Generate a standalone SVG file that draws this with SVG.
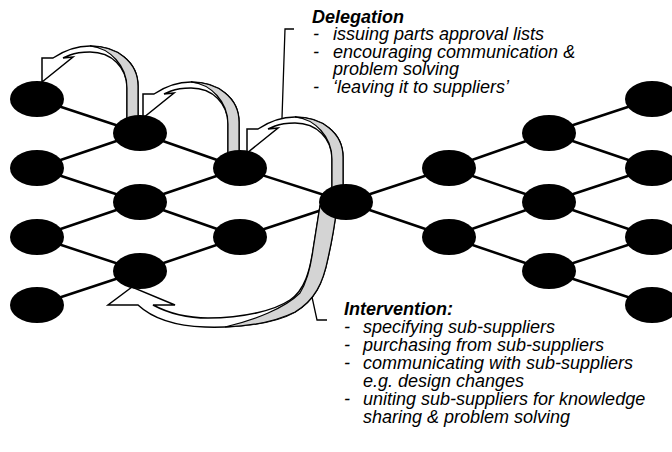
<svg xmlns="http://www.w3.org/2000/svg" width="672" height="452" viewBox="0 0 672 452">
<defs>
<style>
.edge{stroke:#000;stroke-width:2.5;fill:none}
.node{fill:#000}
.rib{fill:#fff;stroke:#000;stroke-width:1.5;stroke-linejoin:miter}
.shade{fill:#d4d4d4;stroke:#000;stroke-width:1.2}
.lead{stroke:#000;stroke-width:1.3;fill:none}
text{font-family:"Liberation Sans",Arial,sans-serif;font-size:18px;font-style:italic;fill:#000}
.hd{font-weight:bold}
</style>
<g id="curvedArrow">
<path class="rib" d="M127,120 L127,88 C127,68 112,52 90,52 C82,52 75,53 70,55 L63,58 L73,57 L42,82 L42,58 L53,58 C62,52 74,46 90,46 C117,46 138,62 138,86 L138,120 Z"/>
<path class="shade" d="M138,120 L138,86 C138,62 117,46 90,46 C110,48 127,66 127,88 L127,120 Z"/>
</g>
</defs>
<g id="connectors">
<line class="edge" x1="37" y1="99" x2="140" y2="133"/>
<line class="edge" x1="37" y1="168" x2="140" y2="133"/>
<line class="edge" x1="37" y1="168" x2="140" y2="202"/>
<line class="edge" x1="37" y1="237" x2="140" y2="202"/>
<line class="edge" x1="37" y1="237" x2="140" y2="271"/>
<line class="edge" x1="37" y1="305" x2="140" y2="271"/>
<line class="edge" x1="140" y1="133" x2="240" y2="168"/>
<line class="edge" x1="140" y1="202" x2="240" y2="168"/>
<line class="edge" x1="140" y1="202" x2="240" y2="237"/>
<line class="edge" x1="140" y1="271" x2="240" y2="237"/>
<line class="edge" x1="240" y1="168" x2="346" y2="202"/>
<line class="edge" x1="240" y1="237" x2="346" y2="202"/>
<line class="edge" x1="346" y1="202" x2="449" y2="168"/>
<line class="edge" x1="346" y1="202" x2="449" y2="237"/>
<line class="edge" x1="449" y1="168" x2="549" y2="133"/>
<line class="edge" x1="449" y1="168" x2="549" y2="202"/>
<line class="edge" x1="449" y1="237" x2="549" y2="202"/>
<line class="edge" x1="449" y1="237" x2="549" y2="271"/>
<line class="edge" x1="549" y1="133" x2="652" y2="99"/>
<line class="edge" x1="549" y1="133" x2="652" y2="168"/>
<line class="edge" x1="549" y1="202" x2="652" y2="168"/>
<line class="edge" x1="549" y1="202" x2="652" y2="237"/>
<line class="edge" x1="549" y1="271" x2="652" y2="237"/>
<line class="edge" x1="549" y1="271" x2="652" y2="305"/>
<use href="#curvedArrow"/>
<use href="#curvedArrow" transform="translate(101,36)"/>
<use href="#curvedArrow" transform="translate(205,71)"/>
<g id="interventionArrow">
<path class="rib" d="M337,206 C334,230 331,245 328,258 C323,283 315,300 295,312 C275,323 240,328 205,327 C175,326 152,318 138,305 L108,305 L132,287 L175,305 L153,305 C168,313 188,318 208,318 C245,318 275,310 290,300 C305,290 310,270 313,250 L320,206 Z"/>
<path class="shade" d="M337,206 C334,230 331,245 328,258 C323,283 315,300 295,312 C275,322 250,326 225,327 C255,320 285,308 300,293 C308,280 311,265 313,250 L320,206 Z"/>
</g>
<polyline class="lead" points="294,29 285,29 282,118"/>
<polyline class="lead" points="312,297 317,320 327,320"/>
</g>
<g id="n1"><ellipse class="node" cx="37" cy="99" rx="27" ry="18"/></g>
<g id="n2"><ellipse class="node" cx="37" cy="168" rx="27" ry="18"/></g>
<g id="n3"><ellipse class="node" cx="37" cy="237" rx="27" ry="18"/></g>
<g id="n4"><ellipse class="node" cx="37" cy="305" rx="27" ry="18"/></g>
<g id="n5"><ellipse class="node" cx="140" cy="133" rx="27" ry="18"/></g>
<g id="n6"><ellipse class="node" cx="140" cy="202" rx="27" ry="18"/></g>
<g id="n7"><ellipse class="node" cx="140" cy="271" rx="27" ry="18"/></g>
<g id="n8"><ellipse class="node" cx="240" cy="168" rx="27" ry="18"/></g>
<g id="n9"><ellipse class="node" cx="240" cy="237" rx="27" ry="18"/></g>
<g id="n10"><ellipse class="node" cx="346" cy="202" rx="27" ry="18"/></g>
<g id="n11"><ellipse class="node" cx="449" cy="168" rx="27" ry="18"/></g>
<g id="n12"><ellipse class="node" cx="449" cy="237" rx="27" ry="18"/></g>
<g id="n13"><ellipse class="node" cx="549" cy="133" rx="27" ry="18"/></g>
<g id="n14"><ellipse class="node" cx="549" cy="202" rx="27" ry="18"/></g>
<g id="n15"><ellipse class="node" cx="549" cy="271" rx="27" ry="18"/></g>
<g id="n16"><ellipse class="node" cx="652" cy="99" rx="27" ry="18"/></g>
<g id="n17"><ellipse class="node" cx="652" cy="168" rx="27" ry="18"/></g>
<g id="n18"><ellipse class="node" cx="652" cy="237" rx="27" ry="18"/></g>
<g id="n19"><ellipse class="node" cx="652" cy="305" rx="27" ry="18"/></g>
<g id="delegation">
<text class="hd" x="312" y="22.5">Delegation</text>
<text x="313" y="40">-</text><text x="333" y="40">issuing parts approval lists</text>
<text x="313" y="57.5">-</text><text x="333" y="57.5">encouraging communication &amp;</text>
<text x="333" y="75">problem solving</text>
<text x="313" y="92.5">-</text><text x="333" y="92.5">‘leaving it to suppliers’</text>
</g>
<g id="intervention">
<text class="hd" x="344" y="315">Intervention:</text>
<text x="344" y="332.5">-</text><text x="363" y="332.5">specifying sub-suppliers</text>
<text x="344" y="350.5">-</text><text x="363" y="350.5">purchasing from sub-suppliers</text>
<text x="344" y="368.5">-</text><text x="363" y="368.5">communicating with sub-suppliers</text>
<text x="363" y="386.5">e.g. design changes</text>
<text x="344" y="404.5">-</text><text x="363" y="404.5">uniting sub-suppliers for knowledge</text>
<text x="363" y="422.5">sharing &amp; problem solving</text>
</g>
</svg>
